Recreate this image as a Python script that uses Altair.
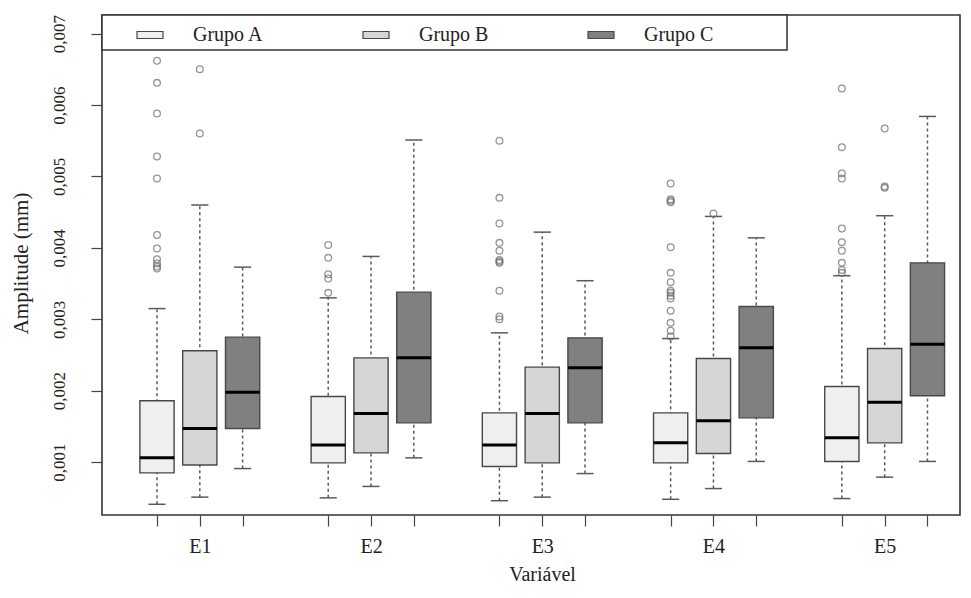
import altair as alt
import pandas as pd

variables = ["E1", "E2", "E3", "E4", "E5"]
groups = ["Grupo A", "Grupo B", "Grupo C"]
fill_colors = ["#efefef", "#d6d6d6", "#808080"]
y_ticks = [0.001, 0.002, 0.003, 0.004, 0.005, 0.006, 0.007]

# box order: E1-A, E1-B, E1-C, E2-A, E2-B, E2-C, ...
whisker_low = [0.00041, 0.00051, 0.00091,
               0.00050, 0.00066, 0.00106,
               0.00046, 0.00051, 0.00084,
               0.00048, 0.00063, 0.00101,
               0.00049, 0.00079, 0.00101]
q1 = [0.00085, 0.00096, 0.00147,
      0.00099, 0.00113, 0.00155,
      0.00094, 0.00099, 0.00155,
      0.00099, 0.00112, 0.00162,
      0.00101, 0.00127, 0.00193]
median = [0.00106, 0.00147, 0.00198,
          0.00124, 0.00168, 0.00246,
          0.00124, 0.00168, 0.00232,
          0.00127, 0.00158, 0.00260,
          0.00134, 0.00184, 0.00265]
q3 = [0.00186, 0.00256, 0.00275,
      0.00192, 0.00246, 0.00338,
      0.00169, 0.00233, 0.00274,
      0.00169, 0.00245, 0.00318,
      0.00206, 0.00259, 0.00379]
whisker_high = [0.00315, 0.00460, 0.00373,
                0.00330, 0.00388, 0.00551,
                0.00281, 0.00422, 0.00354,
                0.00273, 0.00444, 0.00414,
                0.00361, 0.00445, 0.00584]
outliers = [
    [0.00662, 0.00631, 0.00588, 0.00528, 0.00497, 0.00418, 0.00399, 0.00384, 0.00378, 0.00374, 0.00371],
    [0.00650, 0.00560],
    [],
    [0.00404, 0.00386, 0.00363, 0.00357, 0.00337],
    [],
    [],
    [0.00550, 0.00470, 0.00434, 0.00407, 0.00396, 0.00383, 0.00381, 0.00379, 0.00340, 0.00304, 0.00300],
    [],
    [],
    [0.00490, 0.00468, 0.00466, 0.00464, 0.00401, 0.00365, 0.00352, 0.00340, 0.00337, 0.00333, 0.00329, 0.00312, 0.00295, 0.00284, 0.00276],
    [0.00448],
    [],
    [0.00623, 0.00541, 0.00504, 0.00497, 0.00427, 0.00408, 0.00396, 0.00379, 0.00369, 0.00365],
    [0.00567, 0.00486, 0.00484],
    [],
]

rows, out_rows, positions = [], [], []
k = 0
for v, var in enumerate(variables):
    for g, grp in enumerate(groups):
        pos = 1 + 4 * v + g
        positions.append(pos)
        rows.append(dict(variavel=var, grupo=grp, pos=pos,
                         left=pos - 0.4, right=pos + 0.4,
                         capl=pos - 0.2, capr=pos + 0.2,
                         lo=whisker_low[k], q1=q1[k], med=median[k],
                         q3=q3[k], hi=whisker_high[k]))
        for o in outliers[k]:
            out_rows.append(dict(variavel=var, grupo=grp, pos=pos, valor=o))
        k += 1
boxes = pd.DataFrame(rows)
outs = pd.DataFrame(out_rows)

FONT = "Liberation Serif"
x_scale = alt.Scale(domain=[-0.285, 19.76], nice=False, zero=False)
y_scale = alt.Scale(domain=[0.00026, 0.00726], nice=False, zero=False)

label_expr = " : ".join(
    f"datum.value == {1 + 4 * v + 1} ? '{var}'" for v, var in enumerate(variables)
) + " : ''"

x_axis = alt.Axis(values=positions, labelExpr=label_expr, title="Variável",
                  tickSize=11, tickWidth=1.2, labelPadding=10, domain=False, grid=False,
                  labelFont=FONT, titleFont=FONT, labelFontSize=20, titleFontSize=20,
                  titleFontWeight="normal", titleBaseline="alphabetic",
                  titleY=65, titleX=440, tickColor="#444", labelColor="#222",
                  titleColor="#222", labelFlush=False, labelOverlap=False)
y_axis = alt.Axis(values=y_ticks, labelExpr="replace(format(datum.value, '.3f'), '.', ',')",
                  labelAngle=270, labelAlign="center", labelBaseline="bottom",
                  labelPadding=23, tickSize=11, tickWidth=1.2, domain=False, grid=False,
                  labelFont=FONT, titleFont=FONT, labelFontSize=17, titleFontSize=21,
                  titleFontWeight="normal", title="Amplitude (mm)",
                  titleAngle=270, titleAlign="center", titleBaseline="alphabetic",
                  titleX=-75, titleY=248, tickColor="#444", labelColor="#222",
                  titleColor="#222", labelFlush=False, labelOverlap=False)


def X(field):
    return alt.X(field, scale=x_scale, axis=x_axis)


def Y(field):
    return alt.Y(field, scale=y_scale, axis=y_axis)


base = alt.Chart(boxes)

whisk = base.mark_rule(strokeDash=[3, 3], color="#5a5a5a", strokeWidth=1.5).encode(
    x=X("pos:Q"), y=Y("lo:Q"), y2="hi:Q",
)
cap_lo = base.mark_rule(color="#5a5a5a", strokeWidth=1.5).encode(
    x=X("capl:Q"), x2="capr:Q", y=Y("lo:Q"),
)
cap_hi = base.mark_rule(color="#5a5a5a", strokeWidth=1.5).encode(
    x=X("capl:Q"), x2="capr:Q", y=Y("hi:Q"),
)
box = base.mark_rect(stroke="#484848", strokeWidth=1.4).encode(
    x=X("left:Q"), x2="right:Q",
    y=Y("q1:Q"), y2="q3:Q",
    fill=alt.Fill("grupo:N", scale=alt.Scale(domain=groups, range=fill_colors),
                  legend=alt.Legend(title=None, orient="none", legendX=34, legendY=6,
                                    direction="horizontal",
                                    symbolType="M-1,-0.27H1V0.27H-1Z", symbolSize=676,
                                    symbolStrokeColor="#484848", symbolStrokeWidth=1.2,
                                    labelFont=FONT, labelFontSize=20, labelColor="#222",
                                    labelOffset=29, columnPadding=96, padding=0)),
)
med = base.mark_rule(color="black", strokeWidth=3).encode(
    x=X("left:Q"), x2="right:Q", y=Y("med:Q"),
)
pts = alt.Chart(outs).mark_point(shape="circle", filled=False, size=45,
                                 color="#6a6a6a", strokeWidth=1.3).encode(
    x=X("pos:Q"), y=Y("valor:Q"),
)
frame = alt.Chart(pd.DataFrame({"a": [0]})).mark_rect(
    fill="white", stroke="#333", strokeWidth=1.5).encode(
    x=alt.value(0), x2=alt.value(685), y=alt.value(0), y2=alt.value(35))

chart = alt.layer(whisk, cap_lo, cap_hi, box, med, pts, frame).properties(
    width=858, height=500,
    autosize=alt.AutoSizeParams(type="none"),
    padding={"left": 94, "top": 7, "right": 1, "bottom": 69},
    background="white",
).configure_view(stroke="#333", strokeWidth=1.6)

chart.save("out.html", embed_options={"renderer": "svg", "actions": False})
